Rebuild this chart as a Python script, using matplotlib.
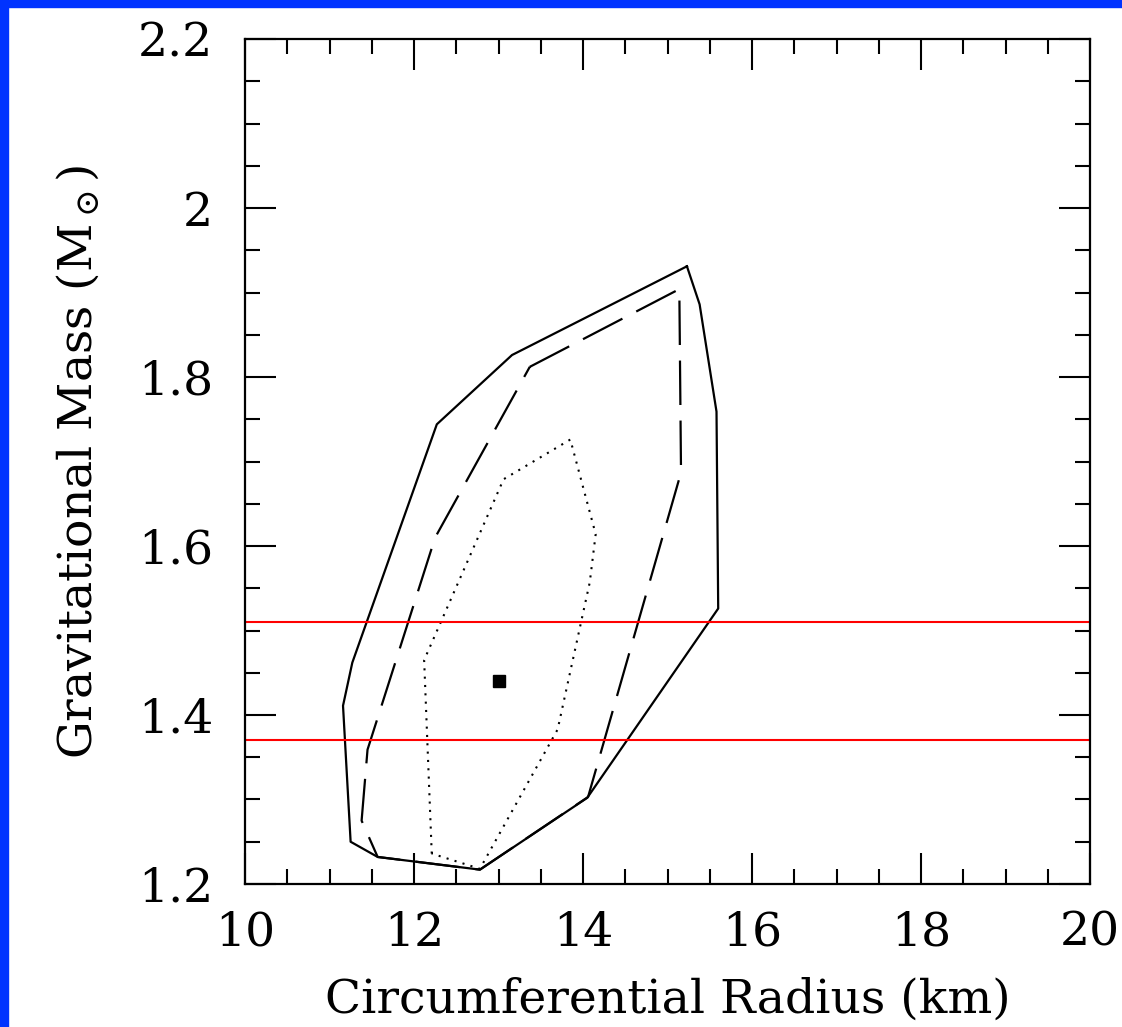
import matplotlib
matplotlib.use("Agg")
import matplotlib.pyplot as plt
from matplotlib.ticker import MultipleLocator
from matplotlib.patches import Rectangle

# confidence contours in the radius-mass plane (km, solar masses)
outer_r = [15.23, 15.38, 15.58, 15.60, 14.05, 12.78, 11.57, 11.25, 11.16, 11.27, 12.27, 13.16, 15.23]
outer_m = [1.931, 1.886, 1.759, 1.526, 1.302, 1.217, 1.232, 1.250, 1.411, 1.462, 1.744, 1.826, 1.931]

mid_r = [13.37, 15.14, 15.16, 14.06, 12.78, 11.57, 11.38, 11.45, 12.25, 13.37]
mid_m = [1.812, 1.904, 1.687, 1.303, 1.217, 1.232, 1.275, 1.359, 1.610, 1.812]

inner_r = [12.21, 12.12, 13.06, 13.85, 14.15, 14.08, 13.70, 12.78, 12.21]
inner_m = [1.236, 1.465, 1.679, 1.726, 1.614, 1.557, 1.383, 1.218, 1.236]

best_r = [13.0]
best_m = [1.44]

mass_bounds = [1.51, 1.37]

plt.rcParams['font.family'] = ['DejaVu Serif']
plt.rcParams['mathtext.fontset'] = 'dejavuserif'

fig = plt.figure(figsize=(11.22, 10.27), dpi=100)
fig.patches.append(Rectangle((0, 1 - 7 / 1027), 1, 7 / 1027, transform=fig.transFigure,
                             color='#0033ff', zorder=10))
fig.patches.append(Rectangle((0, 0), 8 / 1122, 1, transform=fig.transFigure,
                             color='#0033ff', zorder=10))

ax = fig.add_axes([245 / 1122, 1 - 884 / 1027, 845 / 1122, 845 / 1027])

ax.plot(outer_r, outer_m, color='black', lw=1.6)
ax.plot(mid_r, mid_m, color='black', lw=1.6, dashes=(20, 7))
ax.plot(inner_r, inner_m, color='black', lw=1.5, linestyle=(0, (1, 3)))
ax.plot(best_r, best_m, 's', color='black', ms=9)
for m in mass_bounds:
    ax.axhline(m, color='red', lw=1.5)

ax.set_xlim(10, 20)
ax.set_ylim(1.2, 2.2)
ax.xaxis.set_major_locator(MultipleLocator(2))
ax.xaxis.set_minor_locator(MultipleLocator(0.5))
ax.yaxis.set_major_locator(MultipleLocator(0.2))
ax.yaxis.set_minor_locator(MultipleLocator(0.05))
ax.set_yticks([1.2, 1.4, 1.6, 1.8, 2.0, 2.2], ['1.2', '1.4', '1.6', '1.8', '2', '2.2'])

ax.tick_params(which='both', direction='in', top=True, right=True, width=1.5, labelsize=34)
ax.tick_params(which='major', length=22)
ax.tick_params(which='minor', length=11)
ax.tick_params(axis='x', pad=19)
ax.tick_params(axis='y', pad=23)
for s in ax.spines.values():
    s.set_linewidth(1.6)

ax.set_xlabel('Circumferential Radius (km)', fontsize=34, labelpad=16)
ax.set_ylabel(r'Gravitational Mass (M$_\odot$)', fontsize=34, labelpad=26)

fig.savefig('out.png', dpi=100)
